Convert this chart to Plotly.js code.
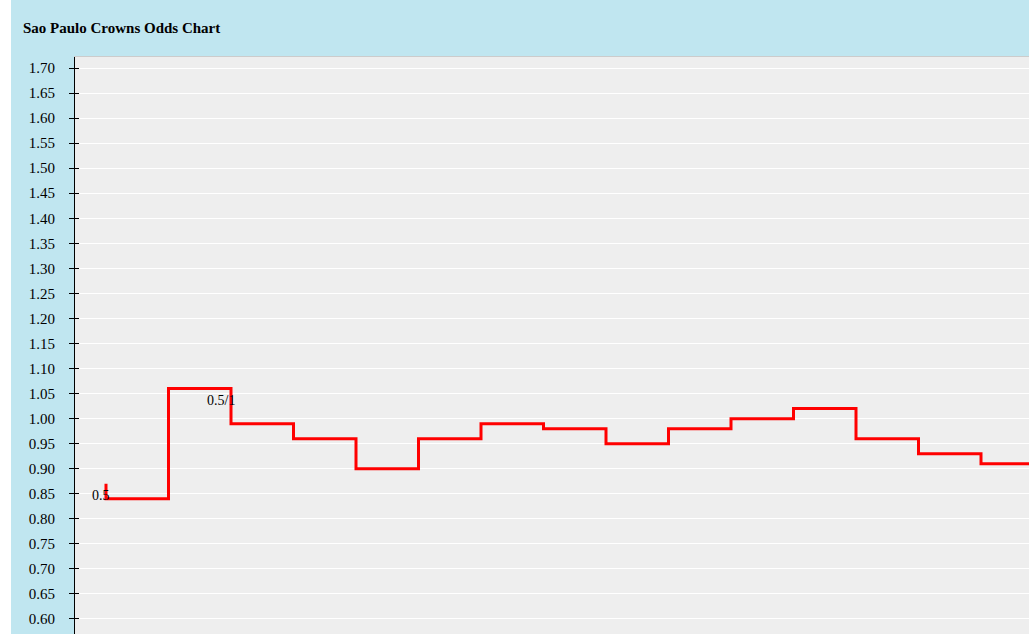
<!DOCTYPE html>
<html>
<head>
<meta charset="utf-8">
<script src="https://cdn.plot.ly/plotly-3.0.1.min.js"></script>
<style>html,body{margin:0;padding:0;background:#fff;}#chart{width:1029px;height:634px;}</style>
</head>
<body>
<div id="chart"></div>
<script>
// Step index (time slot) and odds value at each step
var steps = [0, 1, 2, 3, 4, 5, 6, 7, 8, 9, 10, 11, 12, 13, 14, 15];
var odds = [0.87, 0.84, 1.06, 0.99, 0.96, 0.90, 0.96, 0.99, 0.98, 0.95, 0.98, 1.00, 1.02, 0.96, 0.93, 0.91];
// Handicap line labels
var lineLabelSteps = [0, 2];
var lineLabelValues = [0.85, 1.04];
var lineLabels = ["0.5", "0.5/1"];
var yTicks = [0.60, 0.65, 0.70, 0.75, 0.80, 0.85, 0.90, 0.95, 1.00, 1.05, 1.10, 1.15, 1.20, 1.25, 1.30, 1.35, 1.40, 1.45, 1.50, 1.55, 1.60, 1.65, 1.70];

var serif = '"Liberation Serif", "Times New Roman", serif';

var trace = {
  x: steps, y: odds, type: 'scatter', mode: 'lines',
  line: {shape: 'vh', color: '#ff0000', width: 3},
  hoverinfo: 'none', showlegend: false
};
var dummy = {x: [0], y: [1], yaxis: 'y2', mode: 'markers', marker: {opacity: 0}, showlegend: false, hoverinfo: 'none'};

var annotations = lineLabels.map(function (t, i) {
  return {x: lineLabelSteps[i], y: lineLabelValues[i], xref: 'x', yref: 'y', text: t, showarrow: false,
    xanchor: 'right', yanchor: 'middle', xshift: 6, yshift: -2, font: {family: serif, size: 14, color: '#000'}};
});

var layout = {
  width: 1029, height: 634,
  margin: {l: 75, r: 0, t: 57, b: 0, pad: 0},
  paper_bgcolor: '#c0e6f0',
  plot_bgcolor: '#eeeeee',
  title: {text: '<b>Sao Paulo Crowns Odds Chart</b>', x: 23 / 1029, xanchor: 'left', xref: 'container',
    y: 1 - 28 / 634, yanchor: 'middle', yref: 'container', font: {family: serif, size: 15, color: '#000'}},
  xaxis: {range: [-0.496, 14.768], showgrid: false, zeroline: false, showticklabels: false, ticks: '',
    showline: true, side: 'top', linecolor: '#cccccc', linewidth: 1, fixedrange: true},
  yaxis: {range: [0.570, 1.722], tickvals: yTicks, ticktext: yTicks.map(function (v) { return v.toFixed(2); }),
    showgrid: true, gridcolor: '#ffffff', gridwidth: 1, zeroline: false,
    showline: true, linecolor: '#000', linewidth: 1, ticks: 'outside', ticklen: 5, tickcolor: '#000', tickwidth: 1,
    ticklabelstandoff: 11,
    tickfont: {family: serif, size: 15, color: '#000'}, fixedrange: true},
  yaxis2: {overlaying: 'y', matches: 'y', side: 'left', tickvals: yTicks, showticklabels: false, showgrid: false,
    zeroline: false, showline: false, ticks: 'inside', ticklen: 4, tickcolor: '#000', tickwidth: 1, fixedrange: true},
  annotations: annotations,
  shapes: [{type: 'rect', xref: 'paper', yref: 'paper', x0: -75 / 954, x1: -64 / 954, y0: -0.1, y1: 1.2,
    fillcolor: '#ffffff', line: {width: 0}, layer: 'above'}]
};

Plotly.newPlot('chart', [trace, dummy], layout, {displayModeBar: false, staticPlot: true});
</script>
</body>
</html>
